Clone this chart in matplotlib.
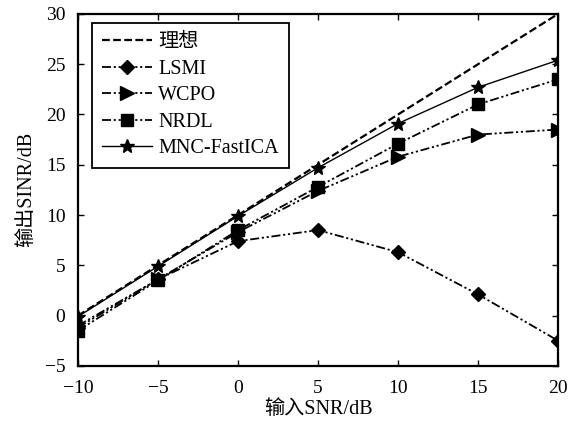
import matplotlib
matplotlib.use("Agg")
import matplotlib.pyplot as plt

plt.rcParams['font.family'] = ['Liberation Serif', 'Noto Sans CJK SC']
plt.rcParams['axes.unicode_minus'] = True

snr = [-10, -5, 0, 5, 10, 15, 20]
ideal = [0, 5, 10, 15, 20, 25, 30]
lsmi = [-1.0, 3.6, 7.4, 8.5, 6.3, 2.1, -2.5]
wcpo = [-1.2, 3.6, 8.3, 12.4, 15.8, 18.0, 18.5]
nrdl = [-1.5, 3.5, 8.5, 12.8, 17.1, 21.0, 23.5]
mnc = [-0.1, 4.9, 9.9, 14.7, 19.1, 22.7, 25.4]
labels = ['理想', 'LSMI', 'WCPO', 'NRDL', 'MNC-FastICA']
xticks = [-10, -5, 0, 5, 10, 15, 20]
yticks = [-5, 0, 5, 10, 15, 20, 25, 30]

fig = plt.figure(figsize=(5.82, 4.21), dpi=100)
ax = fig.add_axes([0.134, 0.131, 0.825, 0.836])

dd = (5, 1.5, 1.2, 1.5, 1.2, 1.5)
ax.plot(snr, ideal, color='black', lw=1.6, linestyle=(0, (3.5, 1.5)), label=labels[0])
ax.plot(snr, lsmi, color='black', lw=1.3, linestyle=(0, dd), marker='D', ms=7, label=labels[1])
ax.plot(snr, wcpo, color='black', lw=1.3, linestyle=(0, dd), marker='>', ms=9.5, label=labels[2])
ax.plot(snr, nrdl, color='black', lw=1.3, linestyle=(0, dd), marker='s', ms=8.5, label=labels[3])
ax.plot(snr, mnc, color='black', lw=1.0, linestyle='-', marker='*', ms=10, label=labels[4])

ax.set_xlim(-10, 20)
ax.set_ylim(-5, 30)
ax.set_xticks(xticks)
ax.set_yticks(yticks)
ax.tick_params(direction='in', top=True, right=True, labelsize=14, length=4, width=1)
ax.tick_params(axis='x', pad=10)
ax.tick_params(axis='y', pad=9)
for s in ax.spines.values():
    s.set_linewidth(1.6)
ax.set_xlabel('输入SNR/dB', fontsize=14.5, labelpad=2)
ax.set_ylabel('输出SINR/dB', fontsize=14.5, labelpad=6)

leg = ax.legend(loc='upper left', bbox_to_anchor=(0.029, 0.974), borderaxespad=0,
                fontsize=14.5, frameon=True, fancybox=False,
                edgecolor='black', framealpha=1, handlelength=2.5,
                labelspacing=0.37, handletextpad=0.3, borderpad=0.5)
leg.get_frame().set_linewidth(1.3)

fig.savefig('out.png', dpi=100)
